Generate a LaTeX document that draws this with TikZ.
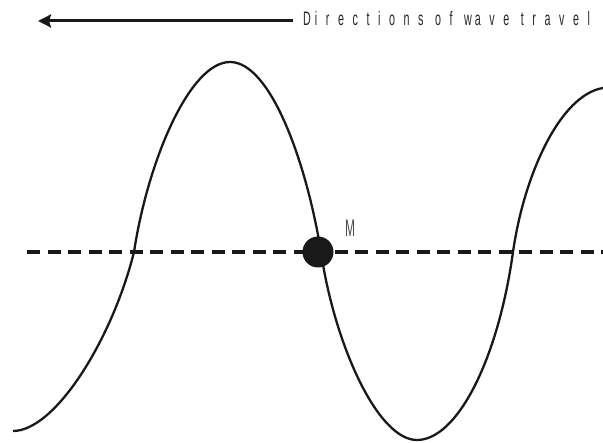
\documentclass[tikz,border=0pt]{standalone}
\usepackage{fontspec}
\setmainfont{Liberation Sans}
\newfontfamily\condfont[FakeStretch=0.55,LetterSpace=44]{Liberation Sans}
\newfontfamily\mfont[FakeStretch=0.5]{Liberation Sans}
\usetikzlibrary{arrows.meta}
\tikzset{
  wave/.style={line width=2.3pt, black!90},
  axis/.style={line width=3.3pt, black!90, dash pattern=on 13pt off 7.5pt},
  travel/.style={line width=3pt, black!90, -{Stealth[length=13pt,width=13pt,inset=2pt]}},
  dotstyle/.style={circle, fill=black!90, minimum size=31pt, inner sep=0pt},
  titletext/.style={inner sep=0pt, anchor=base west, text=black!85, font=\condfont\fontsize{19.5}{22}\selectfont},
  mtext/.style={inner sep=0pt, text=black!70, font=\mfont\fontsize{24}{26}\selectfont}
}
\begin{document}
\begin{tikzpicture}[x=1pt,y=-1pt]
\useasboundingbox (0,0) rectangle (603,443);
% direction arrow and caption
\node[titletext] (title) at (303,26) {D\kern4pt irections of w\kern3pt ave travel};
\coordinate (arrowstart) at (293,21);
\coordinate (arrowtip) at (38,21);
\draw[travel] (arrowstart) -- (arrowtip);
% equilibrium axis
\coordinate (axL) at (27,252);
\coordinate (axR) at (603,252);
\draw[axis] (axL) -- (axR);
% wave
\draw[wave] (13,431) .. controls (55,431) and (112,340) .. (134,252)
  .. controls (148,160) and (190,62) .. (230,62)
  .. controls (270,62) and (306,160) .. (321,252)
  .. controls (334,342) and (377,440) .. (417,440)
  .. controls (457,440) and (498,360) .. (513,252)
  .. controls (524,175) and (560,95) .. (603,88);
% point M
\node[dotstyle] (M) at (318,252) {};
\node[mtext] (Mlabel) at (350,228.5) {M};
\end{tikzpicture}
\end{document}
